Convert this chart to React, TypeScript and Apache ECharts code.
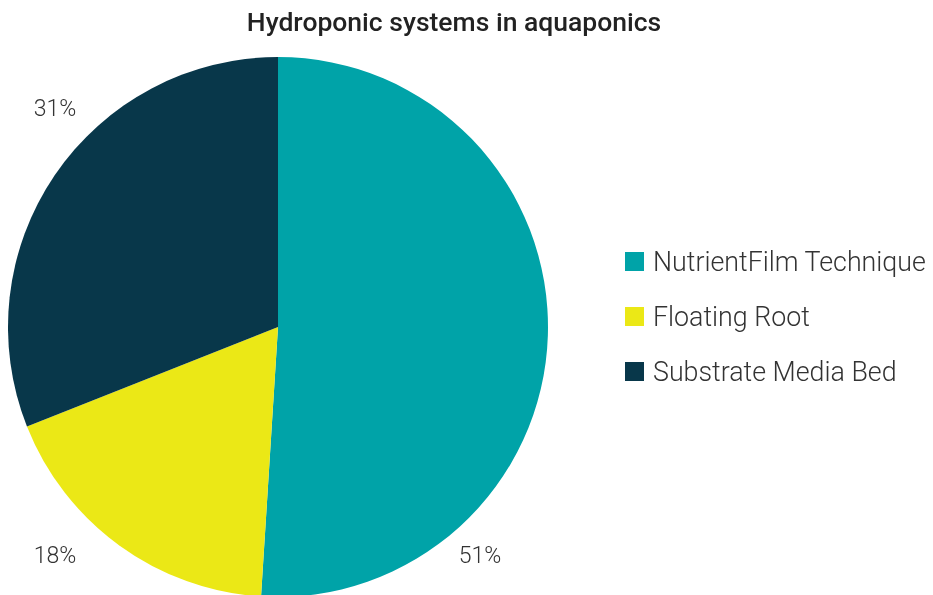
import React, { useEffect, useRef } from "react";
import * as echarts from "echarts";

const categories = ["NutrientFilm Technique", "Floating Root", "Substrate Media Bed"];
const shares = [51, 18, 31];
const colors = ["#00A3A8", "#EBE816", "#08374A"];

// Corner anchors for the percentage labels, by slice index
const labelAnchors: [number, number][] = [
  [480, 555],
  [55, 555],
  [55, 108],
];

export default function App() {
  const ref = useRef<HTMLDivElement>(null);

  useEffect(() => {
    if (!ref.current) return;
    const chart = echarts.init(ref.current, undefined, { renderer: "svg" });
    chart.setOption({
      animation: false,
      color: colors,
      title: {
        text: "Hydroponic systems in aquaponics",
        left: 449,
        top: 3,
        textAlign: "center",
        textStyle: {
          fontFamily: "Roboto",
          fontWeight: 500,
          fontSize: 26.5,
          color: "#222222",
        },
      },
      legend: {
        orient: "vertical",
        left: 620,
        top: 243,
        itemWidth: 19,
        itemHeight: 19,
        itemGap: 28,
        icon: "rect",
        textStyle: {
          fontFamily: "Roboto",
          fontWeight: 300,
          fontSize: 26.8,
          color: "#333333",
          padding: [0, 0, 0, 4],
        },
        data: categories,
      },
      series: [
        {
          type: "pie",
          center: [278, 327],
          radius: [0, 270],
          startAngle: 90,
          clockwise: true,
          data: categories.map((name, i) => ({ name, value: shares[i] })),
          label: {
            show: true,
            position: "inside",
            formatter: "{c}%",
            fontFamily: "Roboto",
            fontWeight: 300,
            fontSize: 23,
            color: "#333333",
          },
          labelLine: { show: false },
          labelLayout: (params: any) => {
            const [x, y] = labelAnchors[params.dataIndex];
            return { x, y, align: "center", verticalAlign: "middle" };
          },
          emphasis: { disabled: true },
        },
      ],
    });
    return () => chart.dispose();
  }, []);

  return (
    <div
      ref={ref}
      style={{ position: "fixed", left: 0, top: 0, width: 933, height: 595 }}
    />
  );
}
